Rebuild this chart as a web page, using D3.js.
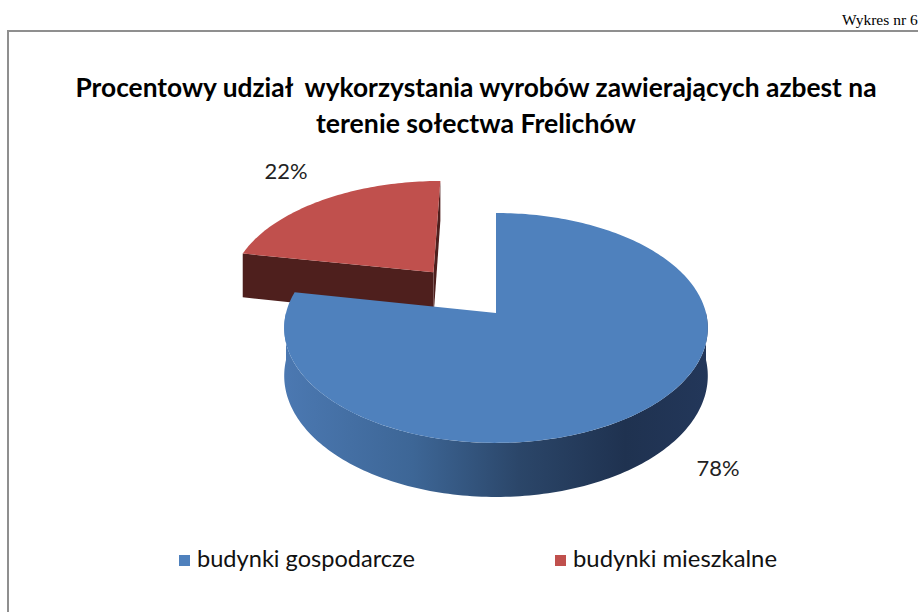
<!DOCTYPE html>
<html>
<head>
<meta charset="utf-8">
<script src="https://cdn.jsdelivr.net/npm/d3@7"></script>
<style>
  body { margin: 0; background: #fff; }
  svg { display: block; }
</style>
</head>
<body>
<div id="vis"></div>
<script>
var categories = ["budynki gospodarcze", "budynki mieszkalne"];
var values = [78, 22];
var labels = ["78%", "22%"];
var explode = [0, 0.49];
var colors = ["#4f81bd", "#c0504d"];
var titleLines = ["Procentowy udział  wykorzystania wyrobów zawierających azbest na", "terenie sołectwa Frelichów"];

var width = 918, height = 612;

var svg = d3.select("#vis")
    .append("svg")
    .attr("width", width)
    .attr("height", height);

// page header + chart frame
svg.append("text")
    .attr("x", 842).attr("y", 25)
    .style("font-family", "Liberation Serif")
    .style("font-size", "15.5px")
    .text("Wykres nr 6");

svg.append("rect")
    .attr("x", 8).attr("y", 31)
    .attr("width", 930).attr("height", 600)
    .style("fill", "none")
    .style("stroke", "#8f8f8f")
    .style("stroke-width", 2);

// title
svg.selectAll(".title")
    .data(titleLines)
  .enter().append("text")
    .attr("class", "title")
    .attr("x", 476)
    .attr("y", function(d, i) { return i === 0 ? 97 : 133; })
    .attr("text-anchor", "middle")
    .attr("textLength", function(d, i) { return i === 0 ? 801 : 320; })
    .attr("lengthAdjust", "spacingAndGlyphs")
    .style("white-space", "pre")
    .style("font-family", "Lato")
    .style("font-weight", "bold")
    .style("font-size", "26px")
    .style("fill", "#000")
    .text(function(d) { return d; });

// 3d pie with simple perspective
var cx = 496, cy = 313, rx = 210, ry = 113, persp = 0.13, depth = 47;

function proj(X, Z, h) {
  var s = 1 / (1 - persp * Z);
  return [cx + rx * X * s, cy + ry * Z * s + depth * h * s];
}
function pt(a, r, off, h) {
  return proj(r * Math.sin(a) + off[0], -r * Math.cos(a) + off[1], h);
}
function arcPts(a0, a1, off, h) {
  var n = Math.max(2, Math.ceil((a1 - a0) / 0.02)), out = [];
  for (var i = 0; i <= n; i++) out.push(pt(a0 + (a1 - a0) * i / n, 1, off, h));
  return out;
}

var line = d3.line();
var arcs = d3.pie().sort(null).startAngle(0)(values);

var defs = svg.append("defs");
var grad = defs.append("linearGradient")
    .attr("id", "sideBlue")
    .attr("gradientUnits", "userSpaceOnUse")
    .attr("x1", 286).attr("x2", 710).attr("y1", 0).attr("y2", 0);
[["0%", "#4b78b1"], ["30%", "#3d6696"], ["55%", "#2b4669"], ["80%", "#1f3250"], ["100%", "#23375a"]]
  .forEach(function(s) { grad.append("stop").attr("offset", s[0]).attr("stop-color", s[1]); });

var sideColors = ["url(#sideBlue)", "#4e1f1d"];
var wallColors = ["#1f3350", "#4e1f1d"];

var g = svg.append("g");

// draw back slice first
[1, 0].forEach(function(i) {
  var d = arcs[i];
  var mid = (d.startAngle + d.endAngle) / 2;
  var off = [explode[i] * Math.sin(mid), -explode[i] * Math.cos(mid)];
  var a0 = d.startAngle, a1 = d.endAngle;
  var tip0 = proj(off[0], off[1], 0), tip1 = proj(off[0], off[1], 1);

  // cut walls
  if (Math.sin(a0) <= 0.001) {
    g.append("path")
      .attr("d", line([tip0, pt(a0, 1, off, 0), pt(a0, 1, off, 1), tip1]) + "Z")
      .style("fill", wallColors[i]);
  }
  if (Math.sin(a1) >= -0.001) {
    g.append("path")
      .attr("d", line([tip0, pt(a1, 1, off, 0), pt(a1, 1, off, 1), tip1]) + "Z")
      .style("fill", wallColors[i]);
  }

  // outer wall (front part)
  var t0 = Math.max(a0, Math.PI / 2), t1 = Math.min(a1, 3 * Math.PI / 2);
  if (t1 > t0) {
    var top = arcPts(t0, t1, off, 0), bot = arcPts(t0, t1, off, 1).reverse();
    g.append("path")
      .attr("d", line(top.concat(bot)) + "Z")
      .style("fill", sideColors[i]);
  }

  // top face
  g.append("path")
    .attr("d", line([tip0].concat(arcPts(a0, a1, off, 0))) + "Z")
    .style("fill", colors[i]);
});

// data labels
var labelPos = [[718, 476], [286, 179]];
svg.selectAll(".lbl")
    .data(labels)
  .enter().append("text")
    .attr("class", "lbl")
    .attr("x", function(d, i) { return labelPos[i][0]; })
    .attr("y", function(d, i) { return labelPos[i][1]; })
    .attr("text-anchor", "middle")
    .attr("textLength", 43)
    .attr("lengthAdjust", "spacingAndGlyphs")
    .style("font-family", "Lato")
    .style("font-size", "22px")
    .style("fill", "#222")
    .text(function(d) { return d; });

// legend
var legendX = [179, 555], legendW = [218, 204];
var leg = svg.selectAll(".leg")
    .data(categories)
  .enter().append("g")
    .attr("class", "leg")
    .attr("transform", function(d, i) { return "translate(" + legendX[i] + ",0)"; });

leg.append("rect")
    .attr("x", 0).attr("y", 555)
    .attr("width", 11).attr("height", 11)
    .style("fill", function(d, i) { return colors[i]; });

leg.append("text")
    .attr("x", 18).attr("y", 567)
    .attr("textLength", function(d, i) { return legendW[i]; })
    .attr("lengthAdjust", "spacingAndGlyphs")
    .style("font-family", "Lato")
    .style("font-size", "24px")
    .style("fill", "#111")
    .text(function(d) { return d; });
</script>
</body>
</html>
